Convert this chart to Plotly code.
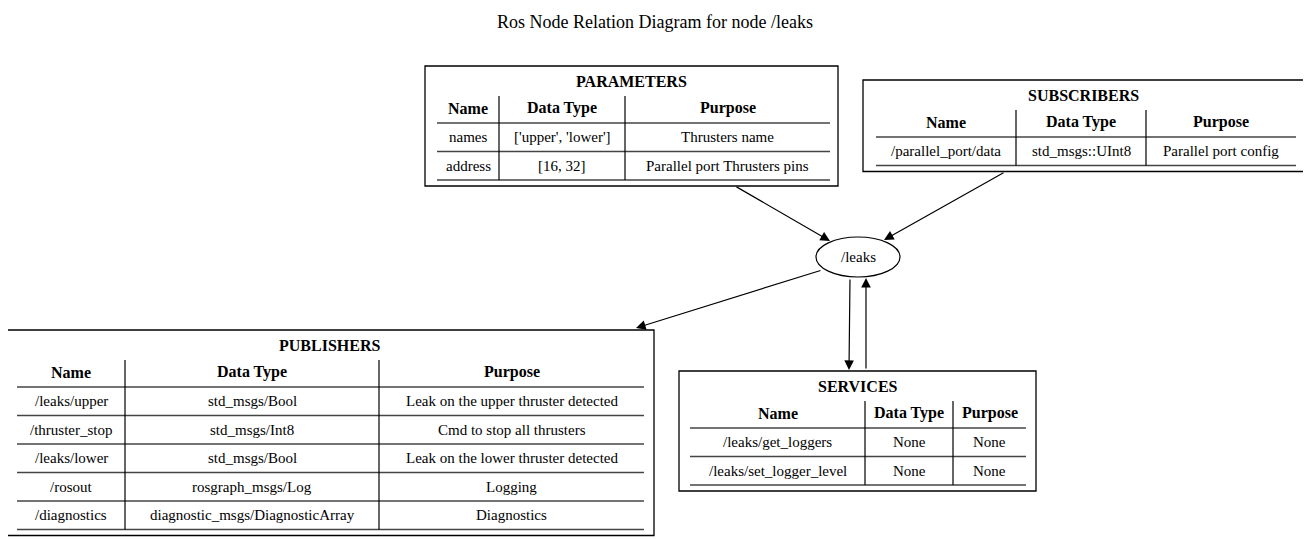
import plotly.graph_objects as go

title = "Ros Node Relation Diagram for node /leaks"
node_name = "/leaks"
header = ["Name", "Data Type", "Purpose"]

param_rows = [["names", "['upper', 'lower']", "Thrusters name"],
              ["address", "[16, 32]", "Parallel port Thrusters pins"]]
sub_rows = [["/parallel_port/data", "std_msgs::UInt8", "Parallel port config"]]
pub_rows = [["/leaks/upper", "std_msgs/Bool", "Leak on the upper thruster detected"],
            ["/thruster_stop", "std_msgs/Int8", "Cmd to stop all thrusters"],
            ["/leaks/lower", "std_msgs/Bool", "Leak on the lower thruster detected"],
            ["/rosout", "rosgraph_msgs/Log", "Logging"],
            ["/diagnostics", "diagnostic_msgs/DiagnosticArray", "Diagnostics"]]
srv_rows = [["/leaks/get_loggers", "None", "None"],
            ["/leaks/set_logger_level", "None", "None"]]

# box geometry: x0, x1, y0, column separators, inner line x-range
tables = [
    ("PARAMETERS", param_rows, dict(x0=425, x1=838, y0=66, cols=[437, 499, 625, 830])),
    ("SUBSCRIBERS", sub_rows, dict(x0=863, x1=1304, y0=80, cols=[876, 1016, 1146, 1296])),
    ("PUBLISHERS", pub_rows, dict(x0=5, x1=654, y0=330, cols=[17, 125, 379, 644])),
    ("SERVICES", srv_rows, dict(x0=679, x1=1036, y0=371, cols=[690, 865, 953, 1026])),
]

FONT = "Liberation Serif"
shapes, annos = [], []


def text(x, y, s, bold=False, size=15):
    annos.append(dict(x=x, y=y, text=f"<b>{s}</b>" if bold else s, showarrow=False,
                      xref="x", yref="y", font=dict(family=FONT, size=size, color="black")))


def line(x0, y0, x1, y1, w=1, c="black"):
    shapes.append(dict(type="line", x0=x0, y0=y0, x1=x1, y1=y1, xref="x", yref="y",
                       line=dict(color=c, width=w)))


for name, rows, g in tables:
    y0 = g["y0"]
    cols = g["cols"]
    row_h = 28.5
    y_title = y0 + 15
    y_head = y0 + 42
    y_bottom = y0 + 57 + row_h * len(rows) + 6
    shapes.append(dict(type="rect", x0=g["x0"], x1=g["x1"], y0=y0, y1=y_bottom,
                       xref="x", yref="y", line=dict(color="black", width=1.3)))
    text((g["x0"] + g["x1"]) / 2, y_title, name, bold=True, size=16)
    centers = [(cols[i] + cols[i + 1]) / 2 for i in range(3)]
    for cx, h in zip(centers, header):
        text(cx, y_head, h, bold=True, size=16)
    yl = y0 + 57
    line(cols[0], yl, cols[3], yl, w=1.5, c="#444")
    for r in rows:
        yc = yl + row_h / 2
        for cx, v in zip(centers, r):
            text(cx, yc, v)
        yl += row_h
        line(cols[0], yl, cols[3], yl, w=1.5, c="#444")
    for cx in cols[1:3]:
        line(cx, y0 + 30, cx, yl, w=1.2)

# node ellipse
shapes.append(dict(type="circle", x0=816, x1=900, y0=237, y1=277, xref="x", yref="y",
                   line=dict(color="black", width=1.2)))
text(858, 257, node_name)

edges = [((735, 186), (830, 241)),
         ((1005, 172), (884, 240)),
         ((822, 270), (636, 328)),
         ((850, 278), (849, 370)),
         ((866, 370), (866, 278))]
for (sx, sy), (tx, ty) in edges:
    annos.append(dict(x=tx, y=ty, ax=sx, ay=sy, xref="x", yref="y", axref="x", ayref="y",
                      showarrow=True, arrowhead=2, arrowsize=1.6, arrowwidth=1.2,
                      arrowcolor="black", text=""))

text(655, 22, title, size=18)

fig = go.Figure()
fig.update_layout(
    width=1311, height=539, margin=dict(l=0, r=0, t=0, b=0),
    plot_bgcolor="white", paper_bgcolor="white", showlegend=False,
    # page body margin shifts the figure by 8px, so offset the ranges to compensate
    xaxis=dict(range=[8, 1319], visible=False),
    yaxis=dict(range=[547, 8], visible=False),
    shapes=shapes, annotations=annos,
)
fig.write_html("out.html")
